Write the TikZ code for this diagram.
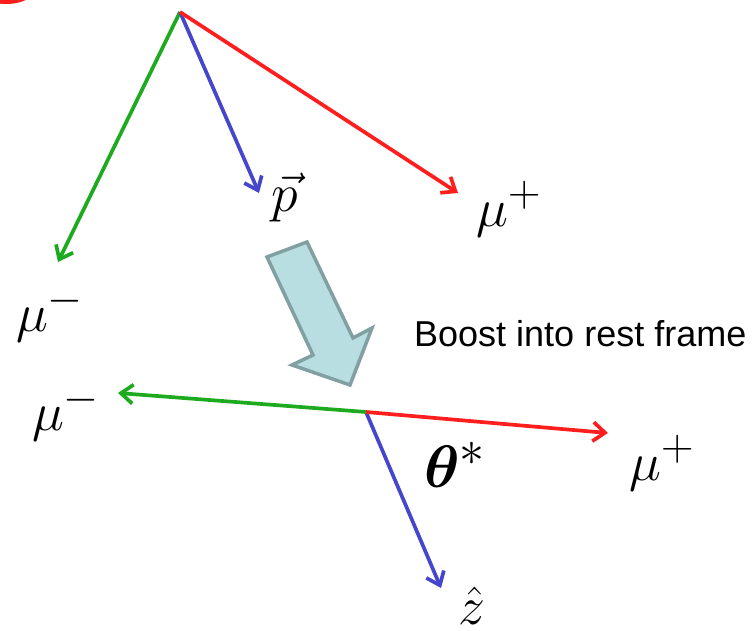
\documentclass[tikz,border=0pt]{standalone}
\usepackage{fontspec}
\usepackage{bm}
\newfontfamily\boostfont{Liberation Sans}
\usetikzlibrary{arrows.meta, positioning}

\definecolor{mured}{RGB}{255,30,30}
\definecolor{mugreen}{RGB}{30,170,30}
\definecolor{zblue}{RGB}{70,70,205}
\definecolor{boostfill}{RGB}{184,222,225}
\definecolor{boostedge}{RGB}{130,160,162}
\newcommand{\bigmath}[2][2.17]{\scalebox{#1}{\Huge$#2$}}

\begin{document}
\begin{tikzpicture}[x=1pt, y=-1pt,
        vec/.style={line width=3.7pt, -{Straight Barb[length=12pt,width=19pt]}},
        lab/.style={inner sep=0pt},
        boost/.style={draw=boostedge, fill=boostfill, line width=3.5pt, line join=miter}]
      \useasboundingbox (0,0) rectangle (753,631);
      \fill[mured] (6,-12) ellipse [x radius=30pt, y radius=16pt];
      % lab frame
      \coordinate (top) at (180,12);
      \coordinate (mumtip) at (58,262);
      \coordinate (ptip) at (259,193);
      \coordinate (muptip) at (458,193);
      \draw[vec, mugreen] (top) -- (mumtip);
      \draw[vec, zblue] (top) -- (ptip);
      \draw[vec, mured] (top) -- (muptip);
      \node[lab] (mum) at (50,314) {\bigmath{\mu^-}};
      \node[lab] (p) at (285,198) {\bigmath{\vec{p}}};
      \node[lab] (mup) at (509,209) {\bigmath{\mu^+}};
      % boost
      \draw[boost] (267,257) -- (307,242) -- (353,338) -- (372,328)
                   -- (350,385) -- (292,365) -- (313,355) -- cycle;
      \node[anchor=base west, inner sep=0pt, font=\boostfont\fontsize{36}{40}\selectfont]
           (boost) at (414,347) {Boost into rest frame};
      % rest frame
      \coordinate (rest) at (366,412);
      \coordinate (mumtip2) at (118,393);
      \coordinate (muptip2) at (608,433);
      \coordinate (ztip) at (441,588);
      \draw[vec, zblue] (rest) -- (ztip);
      \draw[vec, mugreen] (rest) -- (mumtip2);
      \draw[vec, mured] (rest) -- (muptip2);
      \node[lab] (mum2) at (66,413) {\bigmath{\mu^-}};
      \node[lab] (mup2) at (662,463) {\bigmath{\mu^+}};
      \node[lab] (theta) at (455,465) {\bigmath[2.41]{\bm{\theta}^*}};
      \node[lab] (z) at (472,606) {\bigmath{\hat{z}}};
    \end{tikzpicture}
\end{document}
